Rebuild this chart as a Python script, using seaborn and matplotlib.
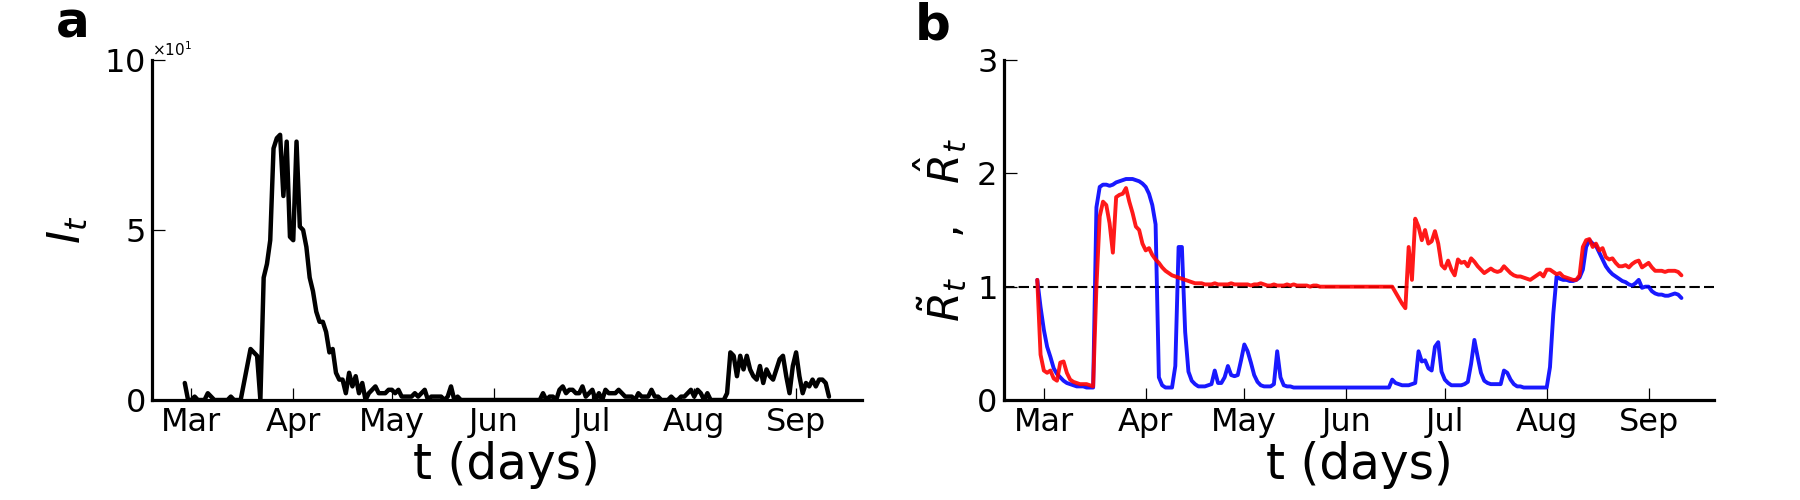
import matplotlib
matplotlib.use("Agg")
import matplotlib.pyplot as plt
import matplotlib.dates as mdates
import numpy as np
import pandas as pd
import seaborn as sns

# daily series, 2020-02-28 .. 2020-09-11
start_date = "2020-02-28"

# I_t : daily infections
infected = [
    5, 0, 0, 1, 0, 0, 0, 2, 1, 0, 0, 0,
    0, 0, 1, 0, 0, 0, 5, 10, 15, 14,
    13, 0, 36, 40, 47, 74, 77, 78, 60, 76,
    48, 47, 76, 51, 50, 45, 36, 32, 26, 23,
    23, 20, 14, 15, 8, 6, 6, 2, 8, 4,
    7, 2, 5, 0, 2, 3, 4, 2, 2, 2,
    3, 3, 2, 3, 1, 1, 1, 1, 2, 1,
    2, 3, 0, 1, 1, 1, 1, 0, 1, 4,
    0, 1, 0, 0, 0, 0, 0, 0, 0, 0,
    0, 0, 0, 0, 0, 0, 0, 0, 0, 0,
    0, 0, 0, 0, 0, 0,
    0, 2, 0, 1, 1, 0, 3, 4, 2, 3,
    3, 2, 2, 4, 1, 2, 3, 0, 2, 0,
    3, 2, 2, 2, 3, 2, 1, 1, 1, 0,
    2, 1, 1, 1, 3, 1, 1, 0, 0, 0,
    1, 0, 0, 1, 1, 2, 3, 1, 3, 2,
    0, 2, 0, 0, 0, 0, 0, 2, 14, 13,
    7, 13, 9, 13, 9, 7, 6, 10, 5, 9,
    7, 6, 9, 12, 13, 7, 2, 10, 14, 7,
    2, 5, 4, 6, 4, 6, 6, 5, 1,
]

# R estimates (red)
r_red = [
    1.06, 0.40, 0.26, 0.24, 0.26, 0.19, 0.17, 0.33, 0.34, 0.24, 0.18, 0.16,
    0.15, 0.14, 0.14, 0.14, 0.13, 0.12, 1.00, 1.62, 1.75, 1.72,
    1.56, 1.30, 1.79, 1.81, 1.82, 1.87, 1.75, 1.65, 1.53, 1.50,
    1.38, 1.32, 1.34, 1.28, 1.24, 1.21, 1.17, 1.14, 1.12, 1.10,
    1.09, 1.08, 1.07, 1.06, 1.05, 1.04, 1.03, 1.03, 1.03, 1.02,
    1.02, 1.02, 1.03, 1.02, 1.02, 1.02, 1.02, 1.03, 1.02, 1.02,
    1.02, 1.02, 1.02, 1.01, 1.02, 1.02, 1.03, 1.02, 1.01, 1.01,
    1.02, 1.01, 1.01, 1.01, 1.02, 1.01, 1.02, 1.01, 1.01, 1.01,
    1.01, 1.00, 1.01, 1.01, 1.00, 1.00, 1.00, 1.00, 1.00, 1.00,
    1.00, 1.00, 1.00, 1.00, 1.00, 1.00, 1.00, 1.00, 1.00, 1.00,
    1.00, 1.00, 1.00, 1.00, 1.00, 1.00,
    1.00, 0.95, 0.90, 0.85, 0.81, 1.35, 1.06, 1.60, 1.53, 1.41,
    1.50, 1.38, 1.40, 1.49, 1.38, 1.19, 1.16, 1.23, 1.15, 1.10,
    1.24, 1.21, 1.22, 1.18, 1.25, 1.22, 1.18, 1.15, 1.12, 1.14,
    1.16, 1.14, 1.13, 1.14, 1.18, 1.15, 1.12, 1.10, 1.09, 1.09,
    1.08, 1.07, 1.06, 1.08, 1.10, 1.12, 1.09, 1.15, 1.15, 1.13,
    1.11, 1.12, 1.09, 1.08, 1.07, 1.06, 1.06, 1.10, 1.35, 1.41,
    1.42, 1.35, 1.38, 1.32, 1.34, 1.26, 1.24, 1.25, 1.21, 1.18,
    1.18, 1.19, 1.17, 1.20, 1.22, 1.23, 1.17, 1.19, 1.21, 1.17,
    1.14, 1.14, 1.14, 1.13, 1.14, 1.14, 1.14, 1.13, 1.10,
]

# R estimates (blue)
r_blue = [
    1.06, 0.82, 0.62, 0.47, 0.38, 0.28, 0.23, 0.20, 0.17, 0.15, 0.14, 0.13,
    0.12, 0.12, 0.12, 0.11, 0.11, 0.11, 1.70, 1.88, 1.90, 1.90,
    1.89, 1.90, 1.92, 1.93, 1.94, 1.95, 1.95, 1.95, 1.94, 1.93,
    1.91, 1.88, 1.82, 1.72, 1.55, 0.20, 0.13, 0.11, 0.11, 0.11,
    0.30, 1.35, 1.35, 0.60, 0.25, 0.17, 0.14, 0.12, 0.12, 0.12,
    0.13, 0.14, 0.26, 0.15, 0.15, 0.20, 0.30, 0.22, 0.21, 0.22,
    0.35, 0.49, 0.43, 0.33, 0.22, 0.16, 0.13, 0.12, 0.12, 0.12,
    0.14, 0.43, 0.20, 0.13, 0.12, 0.12, 0.11, 0.11, 0.11, 0.11,
    0.11, 0.11, 0.11, 0.11, 0.11, 0.11, 0.11, 0.11, 0.11, 0.11,
    0.11, 0.11, 0.11, 0.11, 0.11, 0.11, 0.11, 0.11, 0.11, 0.11,
    0.11, 0.11, 0.11, 0.11, 0.11, 0.11,
    0.18, 0.15, 0.14, 0.13, 0.13, 0.13, 0.14, 0.15, 0.43, 0.34,
    0.35, 0.28, 0.26, 0.47, 0.51, 0.25, 0.18, 0.15, 0.13, 0.13,
    0.13, 0.13, 0.14, 0.16, 0.32, 0.53, 0.38, 0.24, 0.17, 0.15,
    0.14, 0.14, 0.14, 0.14, 0.26, 0.24, 0.18, 0.14, 0.12, 0.12,
    0.11, 0.11, 0.11, 0.11, 0.11, 0.11, 0.11, 0.11, 0.29, 0.76,
    1.09, 1.07, 1.06, 1.06, 1.05, 1.05, 1.06, 1.08, 1.15, 1.35,
    1.41, 1.38, 1.36, 1.30, 1.24, 1.18, 1.14, 1.11, 1.09, 1.07,
    1.05, 1.04, 1.02, 1.01, 1.03, 1.06, 0.99, 1.00, 1.00, 0.96,
    0.94, 0.93, 0.93, 0.92, 0.92, 0.93, 0.94, 0.93, 0.90,
]

dates_i = pd.date_range(start_date, periods=len(infected), freq="D")
dates_red = pd.date_range(start_date, periods=len(r_red), freq="D")
dates_blue = pd.date_range(start_date, periods=len(r_blue), freq="D")
x_lim = (pd.Timestamp("2020-02-18"), pd.Timestamp("2020-09-21"))

sns.set_style("ticks")
plt.rcParams["font.family"] = ["DejaVu Sans"]
plt.rcParams["mathtext.fontset"] = "dejavusans"
plt.rcParams["text.color"] = "black"
plt.rcParams["axes.labelcolor"] = "black"

fig = plt.figure(figsize=(18, 5), dpi=100)
ax1 = fig.add_axes([0.0844, 0.2, 0.3944, 0.68])
ax2 = fig.add_axes([0.558, 0.2, 0.3944, 0.68])


def style_axis(ax):
    sns.despine(ax=ax)
    for side in ["left", "bottom"]:
        ax.spines[side].set_linewidth(2.3)
        ax.spines[side].set_color("black")
    ax.tick_params(direction="in", length=9, width=0.9, labelsize=23,
                   colors="black", pad=5)
    ax.xaxis.set_major_locator(mdates.MonthLocator())
    ax.xaxis.set_major_formatter(mdates.DateFormatter("%b"))
    ax.set_xlim(x_lim)
    ax.set_xlabel("t (days)", fontsize=35, labelpad=2)


# a: infections
sns.lineplot(x=dates_i, y=infected, ax=ax1, color="black", lw=3.2)
ax1.set_ylim(0, 100)
ax1.set_yticks([0, 50, 100])
style_axis(ax1)
ax1.ticklabel_format(axis="y", style="sci", scilimits=(1, 1), useMathText=True)
ax1.yaxis.get_offset_text().set_fontsize(11)
ax1.set_ylabel("$I_t$", fontsize=32, labelpad=10)

# b: reproduction number estimates
ax2.axhline(1, color="black", lw=1.5, dashes=(5, 2), zorder=1)
sns.lineplot(x=dates_blue, y=r_blue, ax=ax2, color="blue", alpha=0.9, lw=2.8)
sns.lineplot(x=dates_red, y=r_red, ax=ax2, color="red", alpha=0.9, lw=2.8)
ax2.set_ylim(0, 3)
ax2.set_yticks([0, 1, 2, 3])
style_axis(ax2)
ax2.set_ylabel(r"$\tilde{R}_t$   ,   $\hat{R}_t$", fontsize=31, labelpad=6)

fig.text(0.031, 0.926, "a", fontsize=36, fontweight="bold")
fig.text(0.508, 0.92, "b", fontsize=36, fontweight="bold")

fig.savefig("out.png", dpi=100)
